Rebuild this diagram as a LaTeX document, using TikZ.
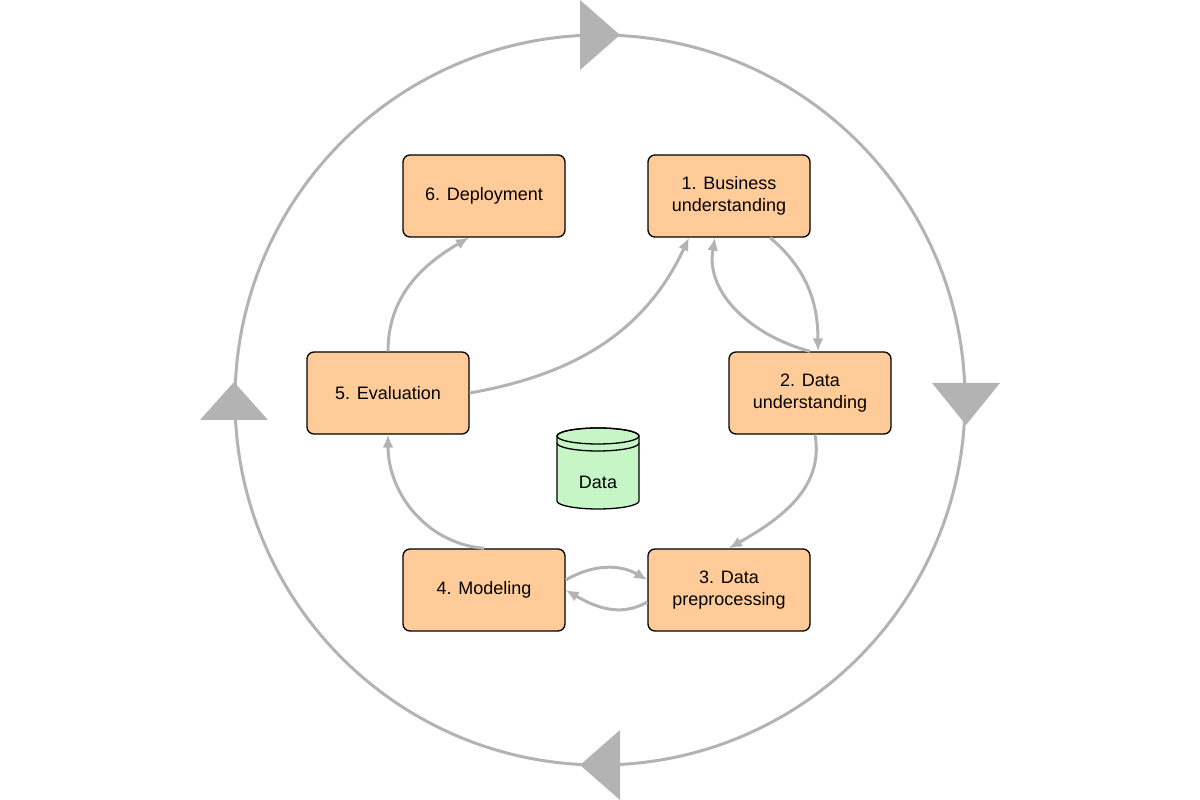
\documentclass[tikz,border=0pt]{standalone}
\usepackage{fontspec}
\setmainfont{Liberation Sans}
\usetikzlibrary{arrows.meta}
\definecolor{boxfill}{HTML}{FFCC99}
\definecolor{datafill}{HTML}{C6F5C6}
\definecolor{flowgray}{HTML}{B3B3B3}
\begin{document}
\begin{tikzpicture}[x=1pt,y=1pt,
  phase/.style={draw,line width=1.3pt,rounded corners=7pt,fill=boxfill,minimum width=162pt,minimum height=82pt,align=center,font=\fontsize{18}{22}\selectfont},
  arrow/.style={-{Latex[length=13pt,width=11pt]},line width=3pt,color=flowgray},
  marker/.style={fill=flowgray}]
  \useasboundingbox (0,0) rectangle (1200,800);

  % outer cycle
  \draw[line width=3pt,flowgray] (600,400) circle[radius=365];
  \fill[marker] (580,800) -- (580,730) -- (620,765) -- cycle;
  \fill[marker] (932,417) -- (1000,417) -- (966,375) -- cycle;
  \fill[marker] (620,70) -- (620,0) -- (580,35) -- cycle;
  \fill[marker] (200,380) -- (268,380) -- (234,418) -- cycle;

  \node[phase] (deployment) at (484,604) {6. Deployment};
  \node[phase] (business) at (729,604) {1. Business\\understanding};
  \node[phase] (understanding) at (810,407) {2. Data\\understanding};
  \node[phase] (evaluation) at (388,407) {5. Evaluation};
  \node[phase] (preprocessing) at (729,210) {3. Data\\preprocessing};
  \node[phase] (modeling) at (484,210) {4. Modeling};

  % data store
  \filldraw[datafill,draw=black,line width=1.3pt] (557,364) -- (557,299) arc[start angle=180,end angle=360,x radius=41,y radius=8] -- (639,364) arc[start angle=0,end angle=180,x radius=41,y radius=8] -- cycle;
  \draw[line width=1.3pt] (598,364) ellipse[x radius=41,y radius=8];
  \draw[line width=1.3pt] (557,357) arc[start angle=180,end angle=360,x radius=41,y radius=8];
  \node[font=\fontsize{18}{22}\selectfont] (data) at (598,318) {Data};

  \draw[arrow] ([xshift=41pt]business.south) to[out=-40,in=90] ([xshift=8pt]understanding.north);
  \draw[arrow] (understanding.north) to[out=165,in=-100] ([xshift=-14pt]business.south);
  \draw[arrow] ([xshift=5pt]understanding.south) to[out=-80,in=30] (preprocessing.north);
  \draw[arrow] ([yshift=-12pt]preprocessing.west) to[out=-150,in=-30] (modeling.east);
  \draw[arrow] ([yshift=10pt]modeling.east) to[out=30,in=150] ([yshift=10pt]preprocessing.west);
  \draw[arrow] (modeling.north) to[out=175,in=-90] (evaluation.south);
  \draw[arrow] (evaluation.north) to[out=90,in=-150] ([xshift=-15pt]deployment.south);
  \draw[arrow] (evaluation.east) to[out=10,in=-115] ([xshift=-40pt]business.south);
\end{tikzpicture}
\end{document}
